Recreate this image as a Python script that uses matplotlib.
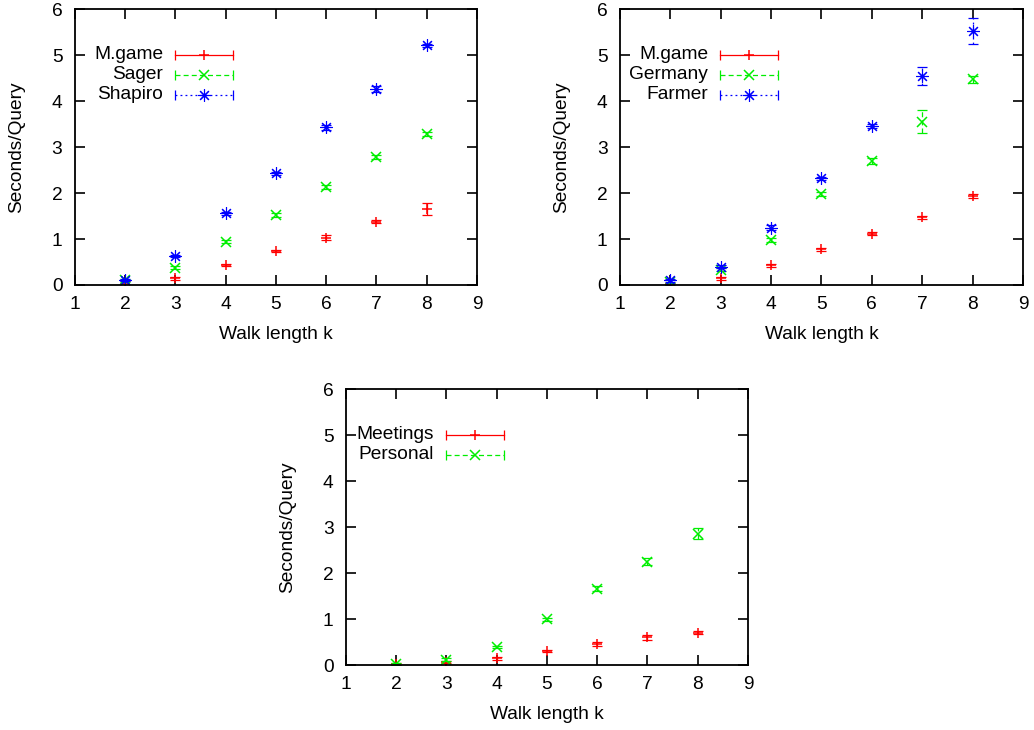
import matplotlib
matplotlib.use("Agg")
import matplotlib.pyplot as plt

plt.rcParams['font.family'] = ['Liberation Sans', 'DejaVu Sans']

walk_k = [2, 3, 4, 5, 6, 7, 8]

# Panel 1
p1_labels = ["M.game", "Sager", "Shapiro"]
p1_mgame = [0.02, 0.145, 0.435, 0.74, 1.03, 1.38, 1.65]
p1_mgame_err = [0.06, 0.03, 0.03, 0.03, 0.05, 0.04, 0.13]
p1_sager = [0.10, 0.38, 0.94, 1.52, 2.13, 2.79, 3.29]
p1_sager_err = [0.03, 0.03, 0.03, 0.04, 0.04, 0.05, 0.04]
p1_shapiro = [0.11, 0.63, 1.56, 2.43, 3.43, 4.27, 5.22]
p1_shapiro_err = [0.03, 0.03, 0.03, 0.03, 0.05, 0.06, 0.03]

# Panel 2
p2_labels = ["M.game", "Germany", "Farmer"]
p2_mgame = [0.02, 0.145, 0.43, 0.78, 1.12, 1.47, 1.94]
p2_mgame_err = [0.03, 0.03, 0.03, 0.03, 0.04, 0.04, 0.05]
p2_germany = [0.07, 0.33, 0.98, 1.98, 2.70, 3.56, 4.48]
p2_germany_err = [0.03, 0.03, 0.04, 0.05, 0.07, 0.26, 0.08]
p2_farmer = [0.10, 0.40, 1.25, 2.32, 3.46, 4.55, 5.53]
p2_farmer_err = [0.03, 0.04, 0.05, 0.04, 0.05, 0.20, 0.28]

# Panel 3
p3_labels = ["Meetings", "Personal"]
p3_meetings = [0.02, 0.07, 0.15, 0.30, 0.46, 0.60, 0.70]
p3_meetings_err = [0.02, 0.02, 0.03, 0.02, 0.05, 0.05, 0.03]
p3_personal = [0.02, 0.12, 0.39, 0.99, 1.66, 2.25, 2.85]
p3_personal_err = [0.02, 0.03, 0.03, 0.04, 0.05, 0.07, 0.12]

x_ticks = [1, 2, 3, 4, 5, 6, 7, 8, 9]
y_ticks = [0, 1, 2, 3, 4, 5, 6]

RED = '#ff0000'
GREEN = '#00ee00'
BLUE = '#0000ff'
ASTER = (8, 2, 0)
styles = [
    dict(color=RED, marker='+', ls='-', ms=7.5, mew=1.1),
    dict(color=GREEN, marker='x', ls=(0, (4, 2.5)), ms=7, mew=1.1),
    dict(color=BLUE, marker=ASTER, ls=(0, (1.5, 2.5)), ms=9, mew=0.8),
]
FS = 13.8

fig = plt.figure(figsize=(10.34, 7.30), dpi=100)


def panel(rect, series, labels):
    ax = fig.add_axes(rect)
    for i, ((y, e), lab) in enumerate(zip(series, labels)):
        st = styles[i]
        eb = ax.errorbar(walk_k, y, yerr=e, fmt='none', ecolor=st['color'],
                         elinewidth=0.9, capsize=3.3, capthick=0.9)
        eb[2][0].set_linestyle(st['ls'])
        ax.plot(walk_k, y, ls='none', marker=st['marker'], color=st['color'],
                ms=st['ms'], mew=st['mew'])
        # legend entry (gnuplot style)
        ly = 0.835 - i * 0.0725
        x0, x1 = 0.249, 0.392
        ax.text(0.219, ly, lab, transform=ax.transAxes, ha='right', va='center',
                fontsize=FS)
        ax.plot([x0, x1], [ly, ly], transform=ax.transAxes, color=st['color'],
                lw=0.9, ls=st['ls'], clip_on=False)
        ax.plot([x0, x1], [ly, ly], transform=ax.transAxes, color=st['color'],
                ls='none', marker='|', ms=7, mew=0.9, clip_on=False)
        ax.plot([(x0 + x1) / 2], [ly], transform=ax.transAxes, color=st['color'],
                ls='none', marker=st['marker'], ms=st['ms'], mew=st['mew'],
                clip_on=False)
    ax.set_xlim(1, 9)
    ax.set_ylim(0, 6)
    ax.set_xticks(x_ticks)
    ax.set_yticks(y_ticks)
    ax.tick_params(direction='in', length=7.5, width=1.2, top=True, right=True,
                   labelsize=FS)
    ax.tick_params(axis='x', pad=8)
    ax.tick_params(axis='y', pad=9)
    for s in ax.spines.values():
        s.set_linewidth(1.3)
    ax.text(-0.144, 0.5, "Seconds/Query", transform=ax.transAxes, rotation=90,
            ha='center', va='center', fontsize=FS)
    ax.text(0.5, -0.181, "Walk length k", transform=ax.transAxes,
            ha='center', va='center', fontsize=FS)
    return ax


panel([0.0725, 0.6096, 0.3888, 0.3774],
      [(p1_mgame, p1_mgame_err), (p1_sager, p1_sager_err), (p1_shapiro, p1_shapiro_err)],
      p1_labels)
panel([0.5996, 0.6096, 0.3897, 0.3774],
      [(p2_mgame, p2_mgame_err), (p2_germany, p2_germany_err), (p2_farmer, p2_farmer_err)],
      p2_labels)
panel([0.3346, 0.0890, 0.3888, 0.3781],
      [(p3_meetings, p3_meetings_err), (p3_personal, p3_personal_err)],
      p3_labels)

fig.savefig("out.png", dpi=100)
